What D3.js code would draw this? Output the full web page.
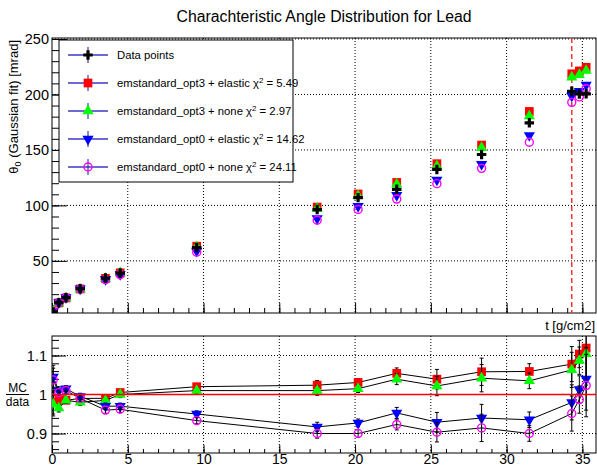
<!DOCTYPE html>
<html>
<head>
<meta charset="utf-8">
<script src="https://cdn.jsdelivr.net/npm/d3@7"></script>
<style>
  body { margin: 0; background: #fff; }
  svg { display: block; font-family: "Liberation Sans", Arial, sans-serif; }
</style>
</head>
<body>
<svg width="597" height="467"></svg>
<script>
// thickness points t [g/cm2]
const thickness = [0.08, 0.45, 0.92, 1.86, 3.53, 4.5, 9.55, 17.5, 20.2, 22.75, 25.4, 28.35, 31.5, 34.3, 34.8, 35.25];

// theta0 [mrad] per sample
const dataPoints    = [4.0, 12.3, 16.8, 24.9, 34.5, 39.0, 62.0, 96.2, 107.0, 114.5, 132.4, 145.9, 174.4, 202.8, 200.4, 200.6];
const opt3Elastic   = [3.92, 12.12, 16.55, 24.65, 34.16, 39.2, 63.24, 98.5, 110.3, 120.7, 137.6, 154.4, 184.7, 218.6, 221.2, 224.5];
const opt3None      = [3.9, 11.87, 16.55, 24.4, 33.98, 39.0, 62.62, 97.16, 108.6, 119.0, 135.3, 152.0, 180.5, 215.6, 217.8, 221.5];
const opt0Elastic   = [4.18, 12.42, 17.05, 24.78, 33.47, 37.83, 58.9, 88.2, 99.2, 109.1, 123.0, 137.1, 163.1, 198.7, 203.0, 208.6];
const opt0None      = [4.15, 12.36, 16.97, 24.65, 33.12, 37.52, 57.85, 86.58, 96.3, 105.7, 119.6, 133.4, 156.96, 192.9, 197.8, 205.2];

// error on the MC/data ratio
const ratioErr = [0.03, 0.01, 0.008, 0.008, 0.008, 0.008, 0.008, 0.012, 0.01, 0.014, 0.025, 0.035, 0.02, 0.045, 0.035, 0.08];

const modelNames = ["emstandard_opt3 + elastic", "emstandard_opt3 + none", "emstandard_opt0 + elastic", "emstandard_opt0 + none"];
const chi2 = ["5.49", "2.97", "14.62", "24.11"];
const cutT = 34.3;

const xTicks = [0, 5, 10, 15, 20, 25, 30, 35];
const yTopTicks = [50, 100, 150, 200, 250];
const yBotTicks = [0.9, 1, 1.1];

const series = [
    { vals: opt3Elastic, color: "#ff0000", shape: "square" },
    { vals: opt3None, color: "#00ff00", shape: "up" },
    { vals: opt0Elastic, color: "#0000ff", shape: "down" },
    { vals: opt0None, color: "#ff00ff", shape: "circle" }
];

const svg = d3.select("svg");

// scales
const x = d3.scaleLinear().domain([0, 35.9]).range([52, 596]);
const yTop = d3.scaleLinear().domain([3, 250.9]).range([313, 38]);
const yBot = d3.scaleLinear().domain([0.85, 1.15]).range([453, 336]);

// marker helper
function marker(g, shape, color, cx, cy) {
    if (shape === "circle") {
        g.append("circle").attr("cx", cx).attr("cy", cy).attr("r", 4)
            .attr("fill", "none").attr("stroke", color).attr("stroke-width", 1.4);
        return;
    }
    let sym, rot = 0, size;
    if (shape === "square") { sym = d3.symbolSquare; size = 76; }
    else if (shape === "up") { sym = d3.symbolTriangle; size = 54; }
    else if (shape === "down") { sym = d3.symbolTriangle; size = 54; rot = 180; }
    else { sym = d3.symbolCross; size = 50; }
    g.append("path")
        .attr("d", d3.symbol().type(sym).size(size)())
        .attr("transform", `translate(${cx},${cy}) rotate(${rot})`)
        .attr("fill", color);
}

const fontFam = "Liberation Sans, Arial, sans-serif";

// clip paths
const defs = svg.append("defs");
defs.append("clipPath").attr("id", "clipTop").append("rect")
    .attr("x", 52).attr("y", 38).attr("width", 544).attr("height", 275);
defs.append("clipPath").attr("id", "clipBot").append("rect")
    .attr("x", 52).attr("y", 336).attr("width", 544).attr("height", 117);

// title
svg.append("text").attr("x", 324).attr("y", 22).attr("text-anchor", "middle")
    .attr("font-size", 15.8).text("Charachteristic Angle Distribution for Lead");

// ---------- top pad ----------
const topPad = svg.append("g");

// grid
const gridX = xTicks.filter(d => d > 0);
topPad.selectAll(".gx").data(gridX).enter().append("line")
    .attr("x1", d => x(d)).attr("x2", d => x(d)).attr("y1", 38).attr("y2", 313)
    .attr("stroke", "#000").attr("stroke-dasharray", "1,2");
topPad.selectAll(".gy").data(yTopTicks).enter().append("line")
    .attr("x1", 52).attr("x2", 596).attr("y1", d => yTop(d)).attr("y2", d => yTop(d))
    .attr("stroke", "#000").attr("stroke-dasharray", "1,2");

// axes (ticks drawn inside the frame)
topPad.append("g").attr("transform", "translate(52,0)")
    .call(d3.axisLeft(yTop).tickValues(d3.range(10, 251, 10)).tickSize(-7).tickFormat(""));
topPad.append("g").attr("transform", "translate(52,0)")
    .call(d3.axisLeft(yTop).tickValues(yTopTicks).tickSize(-15).tickPadding(3))
    .call(g => g.selectAll("text").attr("font-size", 14.5).attr("fill", "#000").attr("font-family", fontFam));
topPad.append("g").attr("transform", "translate(0,313)")
    .call(d3.axisBottom(x).tickValues(d3.range(0, 36, 1)).tickSize(-5).tickFormat(""));
topPad.append("g").attr("transform", "translate(0,313)")
    .call(d3.axisBottom(x).tickValues(xTicks).tickSize(-10).tickFormat(""));
topPad.selectAll(".domain").remove();
topPad.selectAll(".tick line").attr("stroke", "#000");

topPad.append("rect").attr("x", 52).attr("y", 38).attr("width", 544).attr("height", 275)
    .attr("fill", "none").attr("stroke", "#000");

// y title
svg.append("text").attr("transform", "translate(18,40) rotate(-90)")
    .attr("text-anchor", "end").attr("font-size", 13)
    .call(t => {
        t.append("tspan").text("θ");
        t.append("tspan").attr("font-size", 9).attr("dy", 3).text("0");
        t.append("tspan").attr("dy", -3).text(" (Gaussian fit) [mrad]");
    });

// x title
svg.append("text").attr("x", 595).attr("y", 330).attr("text-anchor", "end")
    .attr("font-size", 13).text("t [g/cm2]");

// cut line
topPad.append("line").attr("x1", x(cutT)).attr("x2", x(cutT)).attr("y1", 38).attr("y2", 313)
    .attr("stroke", "#ff3030").attr("stroke-width", 1.5).attr("stroke-dasharray", "5,3");

// markers
const topMarks = topPad.append("g").attr("clip-path", "url(#clipTop)");
series.forEach(s => {
    s.vals.forEach((v, i) => marker(topMarks, s.shape, s.color, x(thickness[i]), yTop(v)));
});
dataPoints.forEach((v, i) => marker(topMarks, "cross", "#000", x(thickness[i]), yTop(v)));

// legend
const leg = svg.append("g");
leg.append("rect").attr("x", 59).attr("y", 40).attr("width", 234).attr("height", 142)
    .attr("fill", "#fff").attr("stroke", "#000");
const legRows = [{ shape: "cross", color: "#000", label: "Data points" }]
    .concat(series.map((s, i) => ({ shape: s.shape, color: s.color, label: modelNames[i], chi: chi2[i] })));
legRows.forEach((r, i) => {
    const cy = 55 + i * 28;
    leg.append("line").attr("x1", 68).attr("x2", 108).attr("y1", cy).attr("y2", cy)
        .attr("stroke", "#3a3ac0").attr("stroke-width", 1.3);
    leg.append("line").attr("x1", 88).attr("x2", 88).attr("y1", cy - 8).attr("y2", cy + 8)
        .attr("stroke", "#1a1a90").attr("stroke-width", 1);
    marker(leg, r.shape, r.color, 88, cy);
    const t = leg.append("text").attr("x", 117).attr("y", cy + 4).attr("font-size", 11.3);
    if (r.chi) {
        t.append("tspan").text(r.label + " χ");
        t.append("tspan").attr("font-size", 8).attr("dy", -4).text("2");
        t.append("tspan").attr("dy", 4).text(" = " + r.chi);
    } else {
        t.text(r.label);
    }
});

// ---------- bottom pad (ratio) ----------
const botPad = svg.append("g");
botPad.selectAll(".gx").data(gridX).enter().append("line")
    .attr("x1", d => x(d)).attr("x2", d => x(d)).attr("y1", 336).attr("y2", 453)
    .attr("stroke", "#000").attr("stroke-dasharray", "1,2");
botPad.selectAll(".gy").data(yBotTicks).enter().append("line")
    .attr("x1", 52).attr("x2", 596).attr("y1", d => yBot(d)).attr("y2", d => yBot(d))
    .attr("stroke", "#000").attr("stroke-dasharray", "1,2");

botPad.append("g").attr("transform", "translate(52,0)")
    .call(d3.axisLeft(yBot).tickValues(d3.range(0.86, 1.15, 0.02)).tickSize(-7).tickFormat(""));
botPad.append("g").attr("transform", "translate(52,0)")
    .call(d3.axisLeft(yBot).tickValues(yBotTicks).tickSize(-14).tickPadding(5).tickFormat(d => d === 1 ? "1" : d3.format(".1f")(d)))
    .call(g => g.selectAll("text").attr("font-size", 14.5).attr("fill", "#000").attr("font-family", fontFam));
botPad.append("g").attr("transform", "translate(0,453)")
    .call(d3.axisBottom(x).tickValues(d3.range(0, 36, 1)).tickSize(-4).tickFormat(""));
botPad.append("g").attr("transform", "translate(0,453)")
    .call(d3.axisBottom(x).tickValues(xTicks).tickSize(-8).tickPadding(1.5))
    .call(g => g.selectAll("text").attr("font-size", 14).attr("fill", "#000").attr("font-family", fontFam));
botPad.selectAll(".domain").remove();
botPad.selectAll(".tick line").attr("stroke", "#000");

botPad.append("rect").attr("x", 52).attr("y", 336).attr("width", 544).attr("height", 117)
    .attr("fill", "none").attr("stroke", "#000");

// MC / data label
svg.append("text").attr("x", 17.5).attr("y", 392).attr("text-anchor", "middle").attr("font-size", 12).text("MC");
svg.append("line").attr("x1", 6).attr("x2", 29).attr("y1", 394.5).attr("y2", 394.5).attr("stroke", "#000");
svg.append("text").attr("x", 17.5).attr("y", 406).attr("text-anchor", "middle").attr("font-size", 12).text("data");

const botMarks = botPad.append("g").attr("clip-path", "url(#clipBot)");
const line = d3.line().x(d => x(d.t)).y(d => yBot(d.r));
series.forEach(s => {
    const pts = s.vals.map((v, i) => ({ t: thickness[i], r: v / dataPoints[i], e: ratioErr[i] }));
    botMarks.append("path").datum(pts).attr("d", line)
        .attr("fill", "none").attr("stroke", "#000").attr("stroke-width", 1);
    pts.forEach(p => {
        const px = x(p.t), y1 = yBot(p.r - p.e), y2 = yBot(p.r + p.e);
        botMarks.append("line").attr("x1", px).attr("x2", px).attr("y1", y1).attr("y2", y2)
            .attr("stroke", "#000").attr("stroke-width", 1);
        [y1, y2].forEach(yy => botMarks.append("line").attr("x1", px - 2).attr("x2", px + 2)
            .attr("y1", yy).attr("y2", yy).attr("stroke", "#000"));
    });
    pts.forEach(p => marker(botMarks, s.shape, s.color, x(p.t), yBot(p.r)));
});

// reference line at ratio = 1
botPad.append("line").attr("x1", 52).attr("x2", 596).attr("y1", yBot(1)).attr("y2", yBot(1))
    .attr("stroke", "#ff0000").attr("stroke-width", 1.3);
</script>
</body>
</html>
